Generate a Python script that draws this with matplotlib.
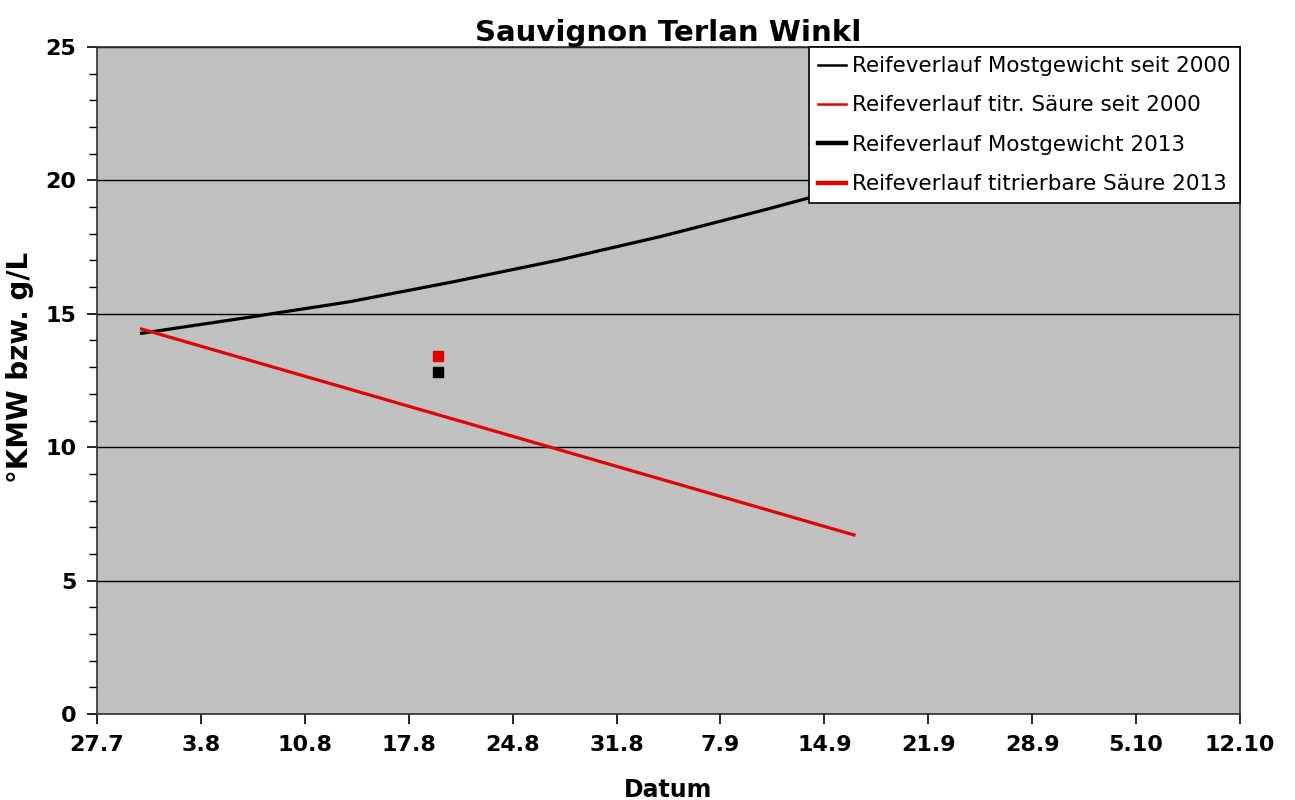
import matplotlib
matplotlib.use("Agg")
import matplotlib.pyplot as plt
from matplotlib.lines import Line2D
from matplotlib.ticker import MultipleLocator, FixedLocator
import datetime as dt

# ---- data ----
avg_dates = ["30.7", "6.8", "13.8", "20.8", "27.8", "3.9", "10.9", "16.9"]
mostgewicht_avg = [14.27, 14.85, 15.45, 16.2, 17.0, 17.9, 18.9, 19.8]
saeure_dates = ["30.7", "16.9"]
saeure_avg = [14.43, 6.71]
dates_2013 = ["19.8"]
mostgewicht_2013 = [12.82]
saeure_2013 = [13.42]
xtick_labels = ["27.7", "3.8", "10.8", "17.8", "24.8", "31.8", "7.9", "14.9",
                "21.9", "28.9", "5.10", "12.10"]
legend_labels = ["Reifeverlauf Mostgewicht seit 2000",
                 "Reifeverlauf titr. Säure seit 2000",
                 "Reifeverlauf Mostgewicht 2013",
                 "Reifeverlauf titrierbare Säure 2013"]

origin = dt.date(2013, 7, 27)

def to_day(s):
    d, m = s.split(".")
    return (dt.date(2013, int(m), int(d)) - origin).days

plt.rcParams['font.family'] = ['DejaVu Sans']

fig = plt.figure(figsize=(12.95, 8.0), dpi=100)
ax = fig.add_axes([97/1295, 1 - 714/800, (1240-97)/1295, (714-47)/800])
ax.set_facecolor("#c0c0c0")

ax.plot([to_day(s) for s in avg_dates], mostgewicht_avg, color="black", lw=2.3, zorder=3)
ax.plot([to_day(s) for s in saeure_dates], saeure_avg, color="#e00000", lw=2.3, zorder=3)
ax.plot([to_day(s) for s in dates_2013], mostgewicht_2013, color="black", lw=3,
        marker="s", markersize=6.5, linestyle="-", zorder=4)
ax.plot([to_day(s) for s in dates_2013], saeure_2013, color="#e00000", lw=3,
        marker="s", markersize=6.5, linestyle="-", zorder=4)

xticks = [to_day(s) for s in xtick_labels]
xticks = [t if t >= 0 else t + 365 for t in xticks]
ax.set_xlim(0, 77)
ax.set_ylim(0, 25)
ax.xaxis.set_major_locator(FixedLocator(xticks))
ax.set_xticklabels(xtick_labels)
ax.yaxis.set_major_locator(MultipleLocator(5))
ax.yaxis.set_minor_locator(MultipleLocator(1))
ax.grid(axis="y", which="major", color="black", lw=1.0, zorder=1)
ax.set_axisbelow(True)
ax.tick_params(axis="both", which="major", direction="out", length=7, width=1.2,
               labelsize=16, pad=8)
ax.tick_params(axis="y", which="minor", direction="out", length=6, width=1.0)
for lab in ax.get_xticklabels() + ax.get_yticklabels():
    lab.set_fontweight("bold")
for sp in ax.spines.values():
    sp.set_color("#303030")
    sp.set_linewidth(1.2)

ax.set_title("Sauvignon Terlan Winkl", fontsize=21, fontweight="bold", pad=4)
ax.set_xlabel("Datum", fontsize=17, fontweight="bold", labelpad=17)
ax.set_ylabel("°KMW bzw. g/L", fontsize=20, fontweight="bold")
ax.yaxis.set_label_coords((34 - 97) / 1143, (714 - 367) / 667)

handles = [Line2D([], [], color="black", lw=1.8),
           Line2D([], [], color="#e00000", lw=1.8),
           Line2D([], [], color="black", lw=3.2),
           Line2D([], [], color="#e00000", lw=3.2)]
leg = ax.legend(handles, legend_labels, loc="upper right", bbox_to_anchor=(1, 1),
                borderaxespad=0, fontsize=15.5, frameon=True, fancybox=False,
                edgecolor="black", framealpha=1, handlelength=1.3,
                handletextpad=0.3, labelspacing=0.9, borderpad=0.42)
leg.get_frame().set_linewidth(1.2)
leg.set_zorder(10)

fig.savefig("out.png", dpi=100)
